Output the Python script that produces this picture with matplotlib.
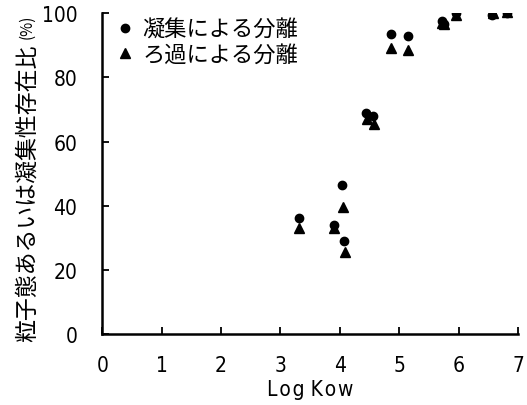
import matplotlib
matplotlib.use("Agg")
import matplotlib.pyplot as plt
from matplotlib import font_manager
from matplotlib.font_manager import FontProperties

# ---------------------------
# Data
# ---------------------------
logkow_coag = [3.31, 3.90, 4.03, 4.07, 4.44, 4.55, 4.86, 5.14, 5.72, 5.76, 5.96, 6.57, 6.81]
ratio_coag = [36, 34, 46.5, 29, 69, 68, 93.5, 93, 97.5, 96.5, 100, 99.5, 100]

logkow_filt = [3.31, 3.91, 4.05, 4.08, 4.46, 4.58, 4.86, 5.14, 5.72, 5.76, 5.96, 6.58, 6.82]
ratio_filt = [33, 33, 39.5, 25.5, 67, 65.5, 89, 88.5, 97, 96.5, 99.5, 100, 100.5]

label_coag = "凝集による分離"
label_filt = "ろ過による分離"
xticks = [0, 1, 2, 3, 4, 5, 6, 7]
yticks = [0, 20, 40, 60, 80, 100]

# ---------------------------
# Fonts: look for a narrow / condensed face for the numbers
# ---------------------------
narrow = None
for f in font_manager.fontManager.ttflist:
    if f.name == "Liberation Sans Narrow" and f.weight in (400, "normal") and f.style == "normal":
        narrow = f.fname
        break
if narrow is None:
    for f in font_manager.fontManager.ttflist:
        if f.name == "DejaVu Sans" and "Condensed" in f.fname and "Bold" not in f.fname \
                and "Oblique" not in f.fname:
            narrow = f.fname
            break

def numfont(size):
    if narrow:
        return FontProperties(fname=narrow, size=size)
    return FontProperties(family="DejaVu Sans", size=size)

jp = ["Noto Sans CJK JP", "DejaVu Sans"]
plt.rcParams["font.family"] = jp

fig = plt.figure(figsize=(5.27, 4.06), dpi=100)
ax = fig.add_axes([0.194, 0.175, 0.789, 0.79])

ax.plot(logkow_coag, ratio_coag, "o", color="black", markersize=6, label=label_coag)
ax.plot(logkow_filt, ratio_filt, "^", color="black", markersize=7, label=label_filt)

ax.set_xlim(0, 7)
ax.set_ylim(0, 100)
ax.set_xticks(xticks)
ax.set_yticks(yticks)
ax.tick_params(direction="in", length=5, width=1.3)
ax.tick_params(axis="y", pad=18)
ax.tick_params(axis="x", pad=15)
for lab in ax.get_xticklabels() + ax.get_yticklabels():
    lab.set_fontproperties(numfont(15))

for s in ["top", "right"]:
    ax.spines[s].set_visible(False)
for s in ["left", "bottom"]:
    ax.spines[s].set_linewidth(1.8)

# hair spaces give the slightly spread lettering of the original
ax.set_xlabel("L\u200ao\u200ag K\u200ao\u200aw", fontproperties=numfont(15), labelpad=3)

fig.text(0.052, 0.525, "粒子態あるいは凝集性存在比", rotation=90, fontsize=16.5,
         ha="center", va="center", family=jp)
fig.text(0.052, 0.933, "(%)", rotation=90, fontsize=11, ha="center", va="center",
         family=jp)

ax.legend(loc="upper left", bbox_to_anchor=(0.029, 0.985), frameon=False,
          fontsize=16, handletextpad=0.25, labelspacing=0.1, handlelength=1.0,
          borderaxespad=0, borderpad=0)

fig.savefig("out.png", dpi=100)
